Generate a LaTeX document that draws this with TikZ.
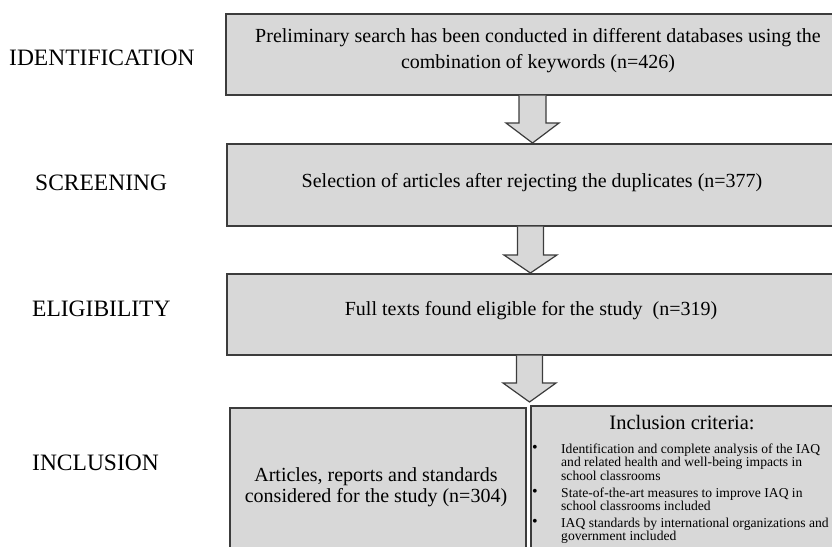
\documentclass[tikz,border=0pt]{standalone}
\usepackage{fontspec}
\setmainfont{Liberation Serif}
\usetikzlibrary{calc}
\definecolor{boxfill}{RGB}{216,216,216}
\definecolor{edge}{RGB}{60,60,60}
\begin{document}
\begin{tikzpicture}[x=1pt,y=-1pt,
  box/.style={draw=edge,fill=boxfill,line width=1.5pt,inner sep=0pt,anchor=north west},
  stage/.style={font=\fontsize{23.5}{28}\selectfont,anchor=west,inner sep=0pt},
  btext/.style={font=\fontsize{20}{26}\selectfont,align=center,inner sep=0pt},
  ctext/.style={font=\fontsize{13.6}{12}\selectfont,align=left,inner sep=0pt,anchor=north west},
  bul/.style={font=\fontsize{16}{12}\selectfont,inner sep=0pt},
  blockarrow/.style={draw=edge,fill=boxfill,line width=1.2pt,line join=miter}]
\useasboundingbox (0,0) rectangle (832,546);
\clip (0,0) rectangle (832,546);

% stage labels
\node[stage] (lid) at (9,58) {IDENTIFICATION};
\node[stage] (lsc) at (35,183) {SCREENING};
\node[stage] (lel) at (32,309) {ELIGIBILITY};
\node[stage] (lin) at (32,463) {INCLUSION};

% boxes
\node[box,minimum width=627pt,minimum height=81pt] (b1) at (225,13) {};
\node[box,minimum width=626pt,minimum height=82pt] (b2) at (226,143) {};
\node[box,minimum width=626pt,minimum height=81pt] (b3) at (226,273) {};
\node[box,minimum width=296pt,minimum height=160pt] (b4) at (229,407) {};
\node[box,minimum width=322pt,minimum height=160pt] (b5) at (530,405) {};

% box texts
\node[btext] (t1) at (538,51) {Preliminary search has been conducted in different databases using the\\combination of keywords (n=426)};
\node[btext] (t2) at (532,183) {Selection of articles after rejecting the duplicates (n=377)};
\node[btext] (t3) at (531,311) {Full texts found eligible for the study~ (n=319)};
\node[btext,font=\fontsize{20}{21.5}\selectfont] (t4) at (376,487) {Articles, reports and standards\\considered for the study (n=304)};

% inclusion criteria
\node[font=\fontsize{20.5}{24}\selectfont,inner sep=0pt] (crit) at (682,423) {Inclusion criteria:};
\node[bul] (k1) at (535,449) {\textbullet};
\node[ctext] (c1) at (561,443.7) {Identification and complete analysis of the IAQ\\and related health and well-being impacts in\\school classrooms};
\node[bul] (k2) at (535,493) {\textbullet};
\node[ctext] (c2) at (561,487.7) {State-of-the-art measures to improve IAQ in\\school classrooms included};
\node[bul] (k3) at (535,523) {\textbullet};
\node[ctext] (c3) at (561,517.7) {IAQ standards by international organizations and\\government included};

% block arrows
\coordinate (ax1) at (532.5,0);
\coordinate (ax2) at (530.4,0);
\coordinate (tip3) at (529.5,402);
\draw[blockarrow] let \p1=(b1.south -| ax1), \p2=(b2.north -| ax1) in
  (\x1-13.5pt,\y1) -- (\x1-13.5pt,\y2+20pt) -- (\x1-26.5pt,\y2+20pt) -- (\x1,\y2)
  -- (\x1+26.5pt,\y2+20pt) -- (\x1+13.5pt,\y2+20pt) -- (\x1+13.5pt,\y1);
\draw[blockarrow] let \p1=(b2.south -| ax2), \p2=(b3.north -| ax2) in
  (\x1-13pt,\y1) -- (\x1-13pt,\y2+18pt) -- (\x1-26.5pt,\y2+18pt) -- (\x1,\y2)
  -- (\x1+26.5pt,\y2+18pt) -- (\x1+13pt,\y2+18pt) -- (\x1+13pt,\y1);
\draw[blockarrow] let \p1=(b3.south -| tip3), \p2=(tip3) in
  (\x1-13pt,\y1) -- (\x1-13pt,\y2+19pt) -- (\x1-26.5pt,\y2+19pt) -- (\x1,\y2)
  -- (\x1+26.5pt,\y2+19pt) -- (\x1+13pt,\y2+19pt) -- (\x1+13pt,\y1);
\end{tikzpicture}
\end{document}
